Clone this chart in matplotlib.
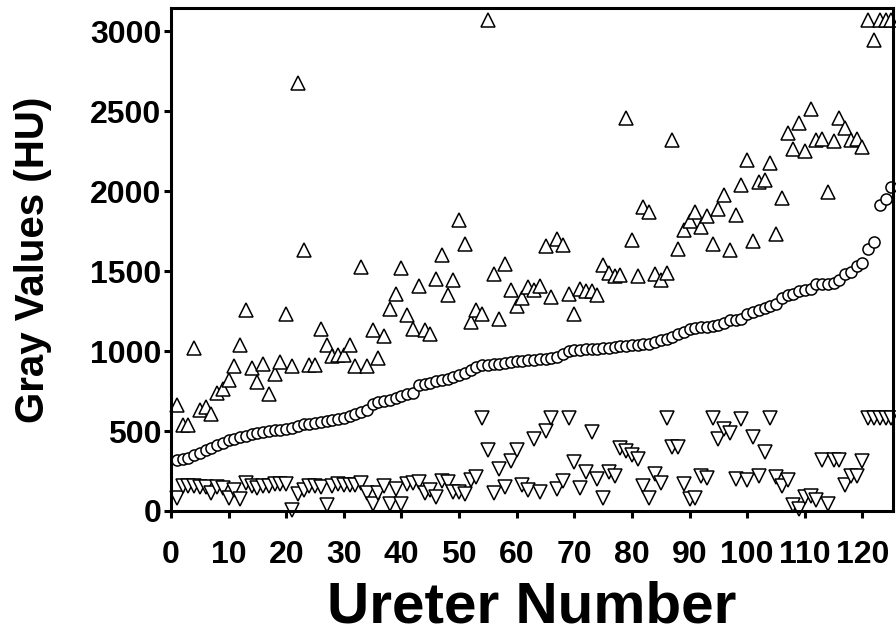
import numpy as np
import matplotlib
matplotlib.use('Agg')
import matplotlib.pyplot as plt

plt.rcParams.update({
    'font.family': 'Liberation Sans',
    'font.weight': 'bold',
})

# --- Data ---
ureter = np.arange(1, 126)

gray_max = [
    660, 536, 536, 1021, 634, 650, 609, 738, 765, 817,
    904, 1036, 1254, 896, 806, 921, 733, 854, 931, 1233,
    904, 2675, 1635, 911, 911, 1136, 1036, 967, 973, 973,
    1040, 904, 1525, 904, 1129, 958, 1092, 1265, 1354, 1521,
    1227, 1140, 1404, 1133, 1104, 1452, 1598, 1348, 1446, 1817,
    1667, 1181, 1254, 1229, 3071, 1479, 1198, 1542, 1384, 1279,
    1334, 1400, 1384, 1404, 1654, 1338, 1702, 1661, 1359, 1234,
    1390, 1375, 1375, 1352, 1536, 1488, 1467, 1473, 2458, 1692,
    1467, 1900, 1869, 1479, 1446, 1488, 2317, 1640, 1759, 1813,
    1869, 1775, 1842, 1667, 1890, 1973, 1629, 1848, 2036, 2192,
    1688, 2056, 2067, 2177, 1734, 1956, 2365, 2261, 2425, 2250,
    2515, 2317, 2327, 1994, 2311, 2458, 2396, 2317, 2327, 2275,
    3071, 2942, 3071, 3071, 3071,
]

gray_mean = [
    317, 325, 333, 348, 363, 379, 396, 410, 425, 442,
    450, 463, 471, 479, 488, 494, 500, 504, 509, 513,
    519, 529, 542, 546, 550, 554, 563, 571, 577, 583,
    592, 604, 619, 633, 671, 681, 688, 696, 708, 721,
    730, 736, 785, 796, 802, 810, 817, 827, 838, 848,
    863, 879, 900, 911, 915, 917, 921, 925, 929, 936,
    940, 942, 946, 950, 952, 956, 963, 984, 998, 1004,
    1008, 1011, 1013, 1015, 1019, 1021, 1025, 1029, 1034, 1036,
    1038, 1042, 1046, 1054, 1067, 1077, 1088, 1104, 1119, 1136,
    1146, 1150, 1150, 1154, 1161, 1177, 1192, 1196, 1202, 1233,
    1244, 1258, 1271, 1279, 1296, 1334, 1348, 1354, 1375, 1379,
    1390, 1417, 1421, 1421, 1425, 1446, 1479, 1494, 1529, 1550,
    1640, 1681, 1911, 1952, 2025,
]

gray_min = [
    84, 154, 154, 154, 148, 148, 113, 148, 142, 84,
    134, 77, 175, 154, 142, 154, 154, 167, 167, 167,
    9, 104, 134, 154, 154, 148, 36, 154, 167, 160,
    160, 160, 175, 113, 46, 113, 154, 46, 140, 46,
    167, 175, 181, 113, 134, 88, 188, 181, 119, 119,
    104, 192, 213, 580, 379, 113, 265, 150, 313, 379,
    165, 134, 452, 119, 500, 580, 140, 188, 580, 306,
    146, 244, 494, 202, 84, 244, 217, 396, 375, 348,
    327, 154, 84, 233, 175, 580, 400, 400, 171, 77,
    84, 220, 205, 580, 452, 515, 488, 202, 575, 192,
    463, 217, 369, 580, 213, 154, 196, 36, 15, 88,
    92, 71, 321, 42, 317, 321, 160, 217, 217, 313,
    580, 580, 580, 580, 580,
]

x_ticks = np.arange(0, 121, 10)
y_ticks = np.arange(0, 3001, 500)

# --- Plot ---
fig = plt.figure(figsize=(8.96, 6.36), dpi=100)
ax = fig.add_axes([171/896, 1 - 511/636, (893 - 171)/896, (511 - 8)/636])

style = dict(linestyle='none', markerfacecolor='white', markeredgecolor='black',
             markeredgewidth=1.1, clip_on=False)
ax.plot(ureter, gray_max, marker='^', markersize=9.5, **style)
ax.plot(ureter, gray_min, marker='v', markersize=9.5, **style)
ax.plot(ureter, gray_mean, marker='o', markersize=8, **style)

ax.set_xlim(0, 125.3)
ax.set_ylim(0, 3145)
ax.set_xticks(x_ticks)
ax.set_yticks(y_ticks)

for sp in ax.spines.values():
    sp.set_linewidth(2.2)

ax.tick_params(axis='both', direction='out', width=2.2, length=5, labelsize=23)
ax.tick_params(axis='x', pad=16)
ax.tick_params(axis='y', pad=2)
for lbl in ax.get_xticklabels() + ax.get_yticklabels():
    lbl.set_fontweight('bold')

ax.set_xlabel('Ureter Number', fontsize=42, fontweight='bold')
ax.xaxis.set_label_coords(0.5, -0.138)
ax.xaxis.label.set_verticalalignment('top')

ax.set_ylabel('Gray Values (HU)', fontsize=29, fontweight='bold')
ax.yaxis.set_label_coords(-0.191, 0.5)
ax.yaxis.label.set_verticalalignment('center')

fig.savefig('out.png', dpi=100)
plt.close(fig)
